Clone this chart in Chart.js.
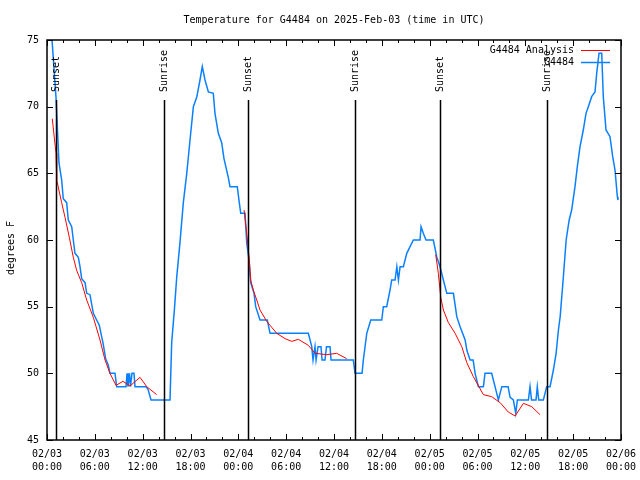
<!DOCTYPE html>
<html>
<head>
<meta charset="utf-8">
<script src="https://cdn.jsdelivr.net/npm/chart.js@4.4.1/dist/chart.umd.min.js"></script>
<style>
  body { margin: 0; background: #fff; }
  canvas { display: block; }
</style>
</head>
<body>
<canvas id="tempChart" width="640" height="480"></canvas>
<script>
// hours since 02/03 00:00 UTC
const obsHours = [0.4, 0.63, 1.13, 1.5, 1.84, 2.04, 2.47, 2.67, 3.1, 3.3, 3.51, 3.93, 4.14, 4.35, 4.77, 4.98, 5.39, 5.81,
  6.23, 6.56, 6.77, 7.02, 7.36, 7.69, 7.9, 8.53, 8.74, 9.91, 10.04, 10.16, 10.35, 10.47, 10.66, 10.91, 11.04, 12.42,
  12.67, 13.05, 15.43, 15.64, 15.97, 16.27, 16.68, 17.1, 17.53, 17.94, 18.36, 18.78, 19.19, 19.48, 19.82, 20.24,
  20.86, 21.07, 21.49, 21.91, 22.2, 22.74, 22.96, 23.87, 24.12, 24.3, 24.84, 25.05, 25.34, 25.55, 25.97, 26.18,
  26.72, 27.63, 27.98, 32.78, 33.21, 33.37, 33.62, 33.75, 34.0, 34.37, 34.5, 34.87, 35.06, 35.5, 35.63, 38.42,
  38.64, 39.52, 39.68, 40.11, 40.61, 41.99, 42.19, 42.61, 43.03, 43.24, 43.66, 43.88, 44.08, 44.29, 44.7, 45.13,
  45.54, 45.96, 46.79, 46.92, 47.2, 47.54, 48.46, 48.88, 49.3, 49.72, 50.15, 50.98, 51.4, 51.82, 52.45, 52.66,
  53.07, 53.45, 53.7, 54.11, 54.74, 54.94, 55.78, 56.2, 56.62, 57.05, 57.84, 58.09, 58.5, 58.8, 59.0, 60.38,
  60.59, 60.78, 61.34, 61.5, 61.68, 62.26, 62.68, 63.1, 63.52, 63.86, 64.15, 64.37, 64.74, 65.12, 65.5, 65.81,
  66.23, 66.52, 66.86, 67.27, 67.61, 67.9, 68.32, 68.74, 68.95, 69.24, 69.58, 69.78, 70.12, 70.62, 70.96, 71.25,
  71.54, 71.62];
const obsTemps = [75.6, 75, 70.7, 65.8, 64.5, 63.1, 62.8, 61.5, 61, 60, 59, 58.7, 58, 57.1, 56.8, 56, 55.9, 54.5,
  54, 53.6, 53, 52.3, 51.1, 50.6, 50, 50, 49, 49, 50, 49, 50, 49, 50, 50, 49, 49,
  48.8, 48, 48, 52.3, 54.7, 57.2, 59.8, 62.8, 65, 67.5, 70, 70.7, 72, 73, 72, 71.1,
  71, 69.5, 68, 67.3, 66.1, 64.7, 64, 64, 62.8, 62, 62, 59.8, 58.5, 56.8, 56, 55,
  54, 54, 53, 53, 52, 51, 52, 51, 52, 52, 51, 51, 52, 52, 51, 51,
  50, 50, 51, 53, 54, 54, 55, 55, 56.25, 57, 57, 58, 57, 58, 58, 59,
  59.5, 60, 60, 61, 60.5, 60, 60, 58.75, 58, 57, 56, 56, 54.25, 53.5, 52.5, 51.75,
  51, 51, 50, 49, 49, 50, 50, 49, 48, 49, 49, 48.2, 48, 47, 48, 48,
  49, 48, 48, 49, 48, 48, 49, 49, 50.25, 51.5, 53.25, 54.25, 57, 60, 61.5, 62.25,
  64, 65.5, 67, 68.25, 69.5, 70, 70.75, 71.1, 72.5, 74, 74, 70.75, 68.25, 67.75, 66.25, 65.25,
  63.25, 63];

// analysis runs, null = gap between nightly runs
const anaHours = [0.66, 1.13, 1.22, 1.84, 2.26, 2.8, 3.3, 3.73, 4.35, 4.98, 5.81, 6.65, 7.28, 7.9, 8.66, 9.53,
  10.41, 11.67, 12.51, 13.76, 19,
  24.72, 25.05, 25.38, 25.55, 25.88, 26.31, 26.72, 27.56, 28.82, 29.86, 30.7, 31.53, 32.78, 33.63, 35.09,
  36.34, 37.59, 43,
  48.76, 49.09, 49.39, 49.72, 50.35, 51.19, 52.03, 52.66, 53.48, 54.74, 55.78, 56.84, 57.86, 58.72, 59.76,
  60.8, 61.84];
const anaTemps = [69.1, 66.5, 64.5, 62.8, 61.7, 60.2, 58.7, 57.7, 56.8, 55.5, 54.2, 52.5, 51, 50, 49.1, 49.4,
  49.05, 49.7, 49, 48.4, null,
  62.25, 60.5, 58.5, 57, 56.25, 55.5, 54.75, 53.9, 53, 52.6, 52.4, 52.55, 52.1, 51.5, 51.4,
  51.5, 51.1, null,
  58.9, 57.5, 55.7, 54.75, 53.8, 53, 52, 50.8, 49.75, 48.4, 48.25, 47.8, 47.1, 46.8, 47.75,
  47.5, 46.9];

const sunTimes = [1.17, 14.72, 25.26, 38.67, 49.35, 62.76];
const sunLabels = ['Sunset', 'Sunrise', 'Sunset', 'Sunrise', 'Sunset', 'Sunrise'];

const xTickLabels = [
  ['02/03', '00:00'], ['02/03', '06:00'], ['02/03', '12:00'], ['02/03', '18:00'],
  ['02/04', '00:00'], ['02/04', '06:00'], ['02/04', '12:00'], ['02/04', '18:00'],
  ['02/05', '00:00'], ['02/05', '06:00'], ['02/05', '12:00'], ['02/05', '18:00'],
  ['02/06', '00:00']
];
const seriesNames = ['G4484 Analysis', 'G4484'];
const seriesColors = ['#ff0000', '#0a80ff'];

const FONT = '10px "DejaVu Sans Mono", "Liberation Mono", monospace';

const toPoints = (xs, ys) => xs.map((h, i) => ({ x: h, y: ys[i] }));

// frame, inward ticks, sun lines, title, legend - gnuplot style
const gnuplotDecor = {
    id: 'gnuplotDecor',
    afterDatasetsDraw(chart) {
        const { ctx, chartArea: a, scales: { x, y } } = chart;
        ctx.save();
        ctx.strokeStyle = '#000';
        ctx.fillStyle = '#000';
        ctx.lineWidth = 1;
        ctx.font = FONT;

        // sunrise / sunset markers
        sunTimes.forEach((t, i) => {
            const px = Math.round(x.getPixelForValue(t)) + 0.5;
            ctx.lineWidth = 1.5;
            ctx.beginPath();
            ctx.moveTo(px, a.top + 60);
            ctx.lineTo(px, a.bottom);
            ctx.stroke();
            ctx.save();
            ctx.translate(px, a.top + 52);
            ctx.rotate(-Math.PI / 2);
            ctx.textAlign = 'left';
            ctx.textBaseline = 'middle';
            ctx.fillText(sunLabels[i], 0, 0);
            ctx.restore();
        });

        ctx.lineWidth = 1;
        // x ticks, major every 6h, minor every 2h, bottom and top
        for (let h = 0; h <= 72; h += 2) {
            const px = Math.round(x.getPixelForValue(h)) + 0.5;
            const len = h % 6 === 0 ? 6 : 3;
            ctx.beginPath();
            ctx.moveTo(px, a.bottom); ctx.lineTo(px, a.bottom - len);
            ctx.moveTo(px, a.top); ctx.lineTo(px, a.top + len);
            ctx.stroke();
        }
        // y ticks, left and right
        for (let v = 45; v <= 75; v += 5) {
            const py = Math.round(y.getPixelForValue(v)) + 0.5;
            ctx.beginPath();
            ctx.moveTo(a.left, py); ctx.lineTo(a.left + 6, py);
            ctx.moveTo(a.right, py); ctx.lineTo(a.right - 6, py);
            ctx.stroke();
        }

        ctx.lineWidth = 1.5;
        ctx.strokeRect(a.left, a.top, a.right - a.left, a.bottom - a.top);

        // title
        ctx.textAlign = 'center';
        ctx.textBaseline = 'middle';
        ctx.fillText('Temperature for G4484 on 2025-Feb-03 (time in UTC)', (a.left + a.right) / 2, 20);

        // y axis label
        ctx.save();
        ctx.translate(11, (a.top + a.bottom) / 2 + 8);
        ctx.rotate(-Math.PI / 2);
        ctx.fillText('degrees F', 0, 0);
        ctx.restore();

        // key, top right
        seriesNames.forEach((name, i) => {
            const ly = a.top + 10 + i * 12;
            ctx.textAlign = 'right';
            ctx.fillText(name, a.right - 47, ly);
            ctx.strokeStyle = seriesColors[i];
            ctx.lineWidth = i === 0 ? 1 : 1.5;
            ctx.beginPath();
            ctx.moveTo(a.right - 40, ly + 0.5);
            ctx.lineTo(a.right - 11, ly + 0.5);
            ctx.stroke();
        });
        ctx.restore();
    }
};

new Chart(document.getElementById('tempChart').getContext('2d'), {
    type: 'line',
    data: {
        datasets: [{
            label: seriesNames[0],
            data: toPoints(anaHours, anaTemps),
            borderColor: seriesColors[0],
            borderWidth: 1,
            pointRadius: 0,
            spanGaps: false
        }, {
            label: seriesNames[1],
            data: toPoints(obsHours, obsTemps),
            borderColor: seriesColors[1],
            borderWidth: 1.5,
            pointRadius: 0
        }]
    },
    options: {
        responsive: false,
        animation: false,
        layout: { padding: { left: 0, right: 19, top: 40, bottom: 0 } },
        plugins: {
            legend: { display: false },
            title: { display: false },
            tooltip: { enabled: false }
        },
        scales: {
            x: {
                type: 'linear',
                min: 0,
                max: 72,
                afterFit: (scale) => { scale.height = 40; },
                grid: { display: false },
                border: { display: false },
                ticks: {
                    stepSize: 6,
                    padding: 0,
                    maxRotation: 0,
                    autoSkip: false,
                    color: '#000',
                    font: { family: '"DejaVu Sans Mono", monospace', size: 10, lineHeight: 1.3 },
                    callback: (v) => xTickLabels[Math.round(v / 6)]
                }
            },
            y: {
                min: 45,
                max: 75,
                afterFit: (scale) => { scale.width = 47; },
                grid: { display: false },
                border: { display: false },
                ticks: {
                    stepSize: 5,
                    padding: 0,
                    color: '#000',
                    font: { family: '"DejaVu Sans Mono", monospace', size: 10 }
                }
            }
        }
    },
    plugins: [gnuplotDecor]
});
</script>
</body>
</html>
